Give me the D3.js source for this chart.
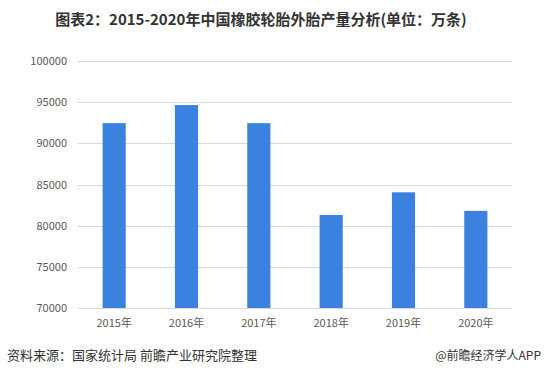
<!DOCTYPE html>
<html>
<head>
<meta charset="utf-8">
<script src="https://cdn.jsdelivr.net/npm/d3@7"></script>
<style>
  body { margin: 0; background: #fff; }
  svg { display: block; font-family: "Noto Sans CJK SC", "Noto Sans", sans-serif; }
</style>
</head>
<body>
<div id="graph"></div>
<script>
// data
var years = ["2015年", "2016年", "2017年", "2018年", "2019年", "2020年"];
var output = [92450, 94650, 92450, 81300, 84050, 81800];
var yTicks = [70000, 75000, 80000, 85000, 90000, 95000, 100000];

var W = 547, H = 379;
var margin = {left: 78, right: 35, top: 61, bottom: 71};

var svg = d3.select("#graph")
            .append("svg")
            .attr("width", W)
            .attr("height", H);

// title
svg.append("text")
    .attr("x", 261)
    .attr("y", 25)
    .attr("text-anchor", "middle")
    .style("font-size", "15px")
    .style("font-weight", "bold")
    .style("fill", "#333")
    .text("图表2：2015-2020年中国橡胶轮胎外胎产量分析(单位：万条)");

var x = d3.scaleBand()
            .domain(years)
            .range([margin.left, W - margin.right])
            .paddingInner(0.68)
            .paddingOuter(0.34);

var y = d3.scaleLinear()
            .domain([70000, 100000])
            .range([H - margin.bottom, margin.top]);

// gridlines
svg.append("g")
    .selectAll("line")
    .data(yTicks)
    .enter()
    .append("line")
    .attr("x1", margin.left)
    .attr("x2", W - margin.right)
    .attr("y1", function(d) { return Math.round(y(d)) + 0.5; })
    .attr("y2", function(d) { return Math.round(y(d)) + 0.5; })
    .style("stroke", "#d9d9d9")
    .style("stroke-width", 1);

// y axis labels
var yAxis = svg.append("g")
    .attr("transform", "translate(" + (margin.left - 11) + ",0)")
    .call(d3.axisLeft(y).tickValues(yTicks).tickSize(0).tickFormat(d3.format("d")));
yAxis.select(".domain").remove();
yAxis.selectAll("text")
    .attr("x", 0)
    .style("font-size", "11px")
    .style("fill", "#595959")
    .style("font-family", "\"Noto Sans CJK SC\", sans-serif");

// bars
svg.append("g")
    .selectAll("rect")
    .data(output)
    .enter()
    .append("rect")
    .attr("x", function(d, i) { return x(years[i]); })
    .attr("width", x.bandwidth())
    .attr("y", function(d) { return y(d); })
    .attr("height", function(d) { return y(70000) - y(d); })
    .style("fill", "#3b82e0");

// x axis labels
var xAxis = svg.append("g")
    .attr("transform", "translate(0," + (H - margin.bottom + 8) + ")")
    .call(d3.axisBottom(x).tickSize(0));
xAxis.select(".domain").remove();
xAxis.selectAll("text")
    .attr("y", 3)
    .style("font-size", "11px")
    .style("fill", "#595959")
    .style("font-family", "\"Noto Sans CJK SC\", sans-serif");

// footer
svg.append("text")
    .attr("x", 7)
    .attr("y", 360)
    .style("font-size", "13px")
    .style("fill", "#333")
    .text("资料来源：国家统计局 前瞻产业研究院整理");

svg.append("text")
    .attr("x", 541)
    .attr("y", 360)
    .attr("text-anchor", "end")
    .style("font-size", "12px")
    .style("fill", "#333")
    .text("@前瞻经济学人APP");
</script>
</body>
</html>
